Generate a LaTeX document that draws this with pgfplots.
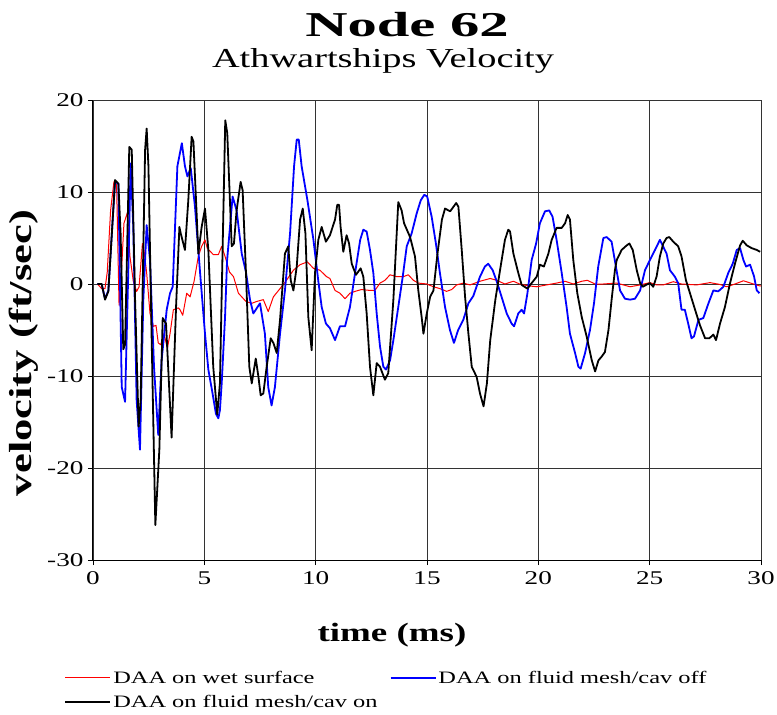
\documentclass[border=0pt]{standalone}
\usepackage{pgfplots}
\pgfplotsset{compat=1.18}
\usepackage{fontspec}
\setmainfont{Liberation Serif}[FakeStretch=1.4]
\usepackage{graphicx}

\begin{document}
\begin{tikzpicture}
\begin{axis}[
  name=ax,
  scale only axis, width=668bp, height=460bp,
  xmin=0, xmax=30, ymin=-30, ymax=20,
  xtick={0,5,...,30}, ytick={-30,-20,...,20},
  axis lines=left,
  axis line style={-, black, line width=1bp},
  grid=major,
  grid style={black!80, line width=0.9bp},
  tick align=outside,
  major tick length=5bp,
  tick style={black, line width=0.8bp},
  xtick pos=bottom, ytick pos=left,
  ticklabel style={font=\fontsize{19.5}{20}\selectfont},
  /pgf/number format/assume math mode=true,
  xticklabel style={yshift=-3bp},
  yticklabel style={xshift=-1bp},
  legend columns=2,
  legend cell align=left,
  legend style={at={(axis description cs:-0.043,-0.236)}, anchor=north west,
    draw=none, fill=none, inner sep=0pt,
    font=\fontsize{17.5}{21}\selectfont,
    row sep=7bp,
    /tikz/every even column/.append style={column sep=10bp}},
  legend image code/.code={\draw[#1] (0bp,0bp) -- (45bp,0bp);},
  line join=round,
]
\addplot[red, line width=1bp] coordinates {
(0.2,0) (0.39,-0.5) (0.54,-0.5) (0.64,1.3) (0.79,8.0) (0.94,11.1) (1.06,10.8) (1.17,-2.3) (1.29,1.9) (1.39,6.6) (1.54,7.7) (1.66,3.0) (1.81,0.3) (1.96,-0.8) (2.07,-0.3) (2.22,4.4) (2.29,3.7) (2.41,1.2) (2.56,-3.2) (2.71,-4.6) (2.83,-4.5) (2.93,-6.4) (3.04,-6.6) (3.19,-5.4) (3.34,-7.0) (3.46,-5.4) (3.61,-2.8) (3.83,-2.6) (3.91,-2.8) (4.03,-3.4) (4.21,-1.0) (4.36,-1.4) (4.54,0.3) (4.73,3.0) (4.88,4.1) (5.03,4.8) (5.13,3.9) (5.40,3.2) (5.63,3.2) (5.78,4.1) (5.93,3.0) (6.13,1.3) (6.31,0.8) (6.53,-1.0) (6.87,-1.9) (7.13,-2.1) (7.35,-1.9) (7.65,-1.7) (7.87,-3.0) (8.10,-1.4) (8.40,-0.5) (8.69,0.4) (9.00,1.5) (9.30,2.1) (9.63,2.4) (9.90,1.7) (10.19,1.5) (10.49,0.8) (10.64,0.6) (10.87,-0.7) (11.09,-1.0) (11.32,-1.6) (11.54,-1.0) (11.77,-0.8) (12.06,-0.6) (12.44,-0.7) (12.66,-0.7) (12.89,0.1) (13.11,0.4) (13.34,1.0) (13.64,0.8) (13.94,0.8) (14.16,1.0) (14.39,0.4) (14.61,0.1) (14.99,0) (15.29,-0.3) (15.58,-0.5) (15.88,-0.8) (16.11,-0.6) (16.33,-0.1) (16.63,0.1) (16.93,-0.1) (17.38,0.3) (17.84,0.6) (18.13,0.4) (18.50,0) (18.88,0.3) (19.16,0) (19.55,-0.2) (19.93,-0.3) (20.37,-0.1) (20.82,0.1) (21.20,0.3) (21.57,0) (21.95,0.3) (22.20,0.4) (22.55,0) (22.92,0) (23.52,0.1) (23.82,-0.1) (24.12,-0.3) (24.57,-0.1) (25.01,0.15) (25.31,-0.1) (25.61,-0.1) (26.06,0.25) (26.43,0) (27.11,-0.1) (27.71,0.15) (28.16,-0.05) (28.46,-0.3) (28.83,0) (29.21,0.35) (29.66,0) (29.93,-0.2) (30,-0.2)
};
\addlegendentry{DAA on wet surface}
\addplot[blue, line width=1.8bp] coordinates {
(0.2,0) (0.39,0) (0.54,-1.6) (0.69,-0.7) (0.99,11.1) (1.14,10.9) (1.29,-11.2) (1.44,-12.8) (1.59,1.9) (1.69,13.1) (1.81,6.2) (1.96,-12.6) (2.11,-18) (2.26,-1.7) (2.41,6.4) (2.56,2.6) (2.74,-9) (2.93,-16.4) (3.08,-8.3) (3.31,-2.8) (3.46,-1.0) (3.58,-0.3) (3.79,12.8) (3.99,15.3) (4.13,12.8) (4.24,11.7) (4.39,12.6) (4.58,8.4) (4.81,1.2) (5.03,-5.4) (5.18,-9.3) (5.37,-11.9) (5.52,-14.1) (5.63,-14.6) (5.70,-13.7) (5.78,-10.8) (5.93,-3.6) (6.02,2.5) (6.27,9.5) (6.45,8.0) (6.68,3.3) (6.87,1.3) (7.05,-1.7) (7.20,-3.2) (7.50,-2.1) (7.72,-5.4) (7.87,-11.2) (8.02,-13.2) (8.17,-11.2) (8.40,-5.4) (8.62,-0.7) (8.85,5.5) (9.03,12.8) (9.15,15.7) (9.24,15.7) (9.37,12.8) (9.63,9.1) (9.90,4.8) (10.12,0.3) (10.27,-2.5) (10.46,-4.3) (10.64,-4.8) (10.87,-6.1) (11.09,-4.6) (11.32,-4.6) (11.54,-2.5) (11.77,1.2) (12.00,4.8) (12.14,5.9) (12.29,5.7) (12.44,3.7) (12.59,1.2) (12.74,-3.2) (12.89,-6.8) (13.04,-9.0) (13.16,-9.3) (13.34,-8.3) (13.49,-6.1) (13.71,-2.5) (13.91,0.8) (14.09,4.1) (14.31,5.5) (14.54,7.7) (14.72,9.1) (14.88,9.7) (15.01,9.5) (15.21,7.3) (15.40,4.4) (15.58,1.2) (15.81,-2.5) (16.03,-5.0) (16.21,-6.4) (16.40,-5.0) (16.63,-3.9) (16.86,-2.1) (17.08,-1.3) (17.38,0.8) (17.60,1.9) (17.75,2.2) (17.95,1.5) (18.13,0.3) (18.35,-1.4) (18.58,-3.2) (18.80,-4.3) (18.91,-4.6) (19.10,-3.2) (19.25,-2.8) (19.36,-3.2) (19.51,-1.0) (19.70,2.6) (19.90,4.4) (20.07,6.6) (20.30,7.9) (20.49,8.0) (20.64,7.3) (20.82,4.8) (21.05,1.2) (21.27,-2.5) (21.42,-5.4) (21.65,-7.5) (21.80,-9.0) (21.90,-9.2) (22.10,-7.5) (22.32,-5.0) (22.50,-2.1) (22.69,1.9) (22.92,5.0) (23.07,5.1) (23.29,4.6) (23.44,2.5) (23.67,-0.7) (23.89,-1.6) (24.12,-1.7) (24.34,-1.6) (24.57,-0.7) (24.79,1.5) (25.01,2.6) (25.24,3.7) (25.46,4.8) (25.58,4.2) (25.76,3.3) (25.91,1.5) (26.13,0.8) (26.28,0.1) (26.43,-2.8) (26.58,-2.8) (26.73,-4.3) (26.88,-5.9) (26.99,-5.7) (27.19,-3.9) (27.41,-3.7) (27.64,-2.1) (27.86,-0.7) (28.08,-0.8) (28.31,-0.3) (28.53,1.2) (28.73,2.2) (28.91,3.7) (29.06,3.9) (29.21,2.6) (29.33,1.9) (29.51,2.1) (29.69,0.8) (29.81,-0.7) (29.93,-1.0)
};
\addlegendentry{DAA on fluid mesh/cav off}
\addplot[black, line width=1.8bp] coordinates {
(0.2,0) (0.39,0) (0.54,-1.7) (0.69,-0.8) (0.99,11.3) (1.14,10.9) (1.24,5.5) (1.36,-7.1) (1.44,-6.6) (1.63,14.9) (1.74,14.6) (1.89,-1.7) (2.05,-15.5) (2.14,-12.6) (2.34,14.6) (2.41,16.9) (2.49,12.8) (2.63,-5.4) (2.80,-26.2) (2.98,-18) (3.13,-3.7) (3.28,-4.3) (3.53,-16.7) (3.73,-2.5) (3.88,6.2) (3.94,5.5) (4.13,3.7) (4.28,9.1) (4.43,16.0) (4.51,15.5) (4.66,7.3) (4.73,3.3) (4.88,6.2) (5.03,8.2) (5.18,3.7) (5.40,-9) (5.58,-14.2) (5.70,-10.8) (5.82,3.7) (5.94,17.8) (6.03,16.4) (6.23,4.1) (6.33,4.4) (6.45,8.0) (6.63,11.1) (6.72,10.2) (6.87,1.2) (7.02,-9) (7.13,-10.8) (7.31,-8.1) (7.43,-10.1) (7.53,-12.1) (7.65,-11.9) (7.80,-9) (7.98,-5.9) (8.10,-6.4) (8.25,-7.5) (8.40,-3.9) (8.62,3.3) (8.77,4.1) (8.88,0.4) (9.00,-0.7) (9.15,1.9) (9.30,7.0) (9.42,8.2) (9.54,5.5) (9.67,-3.6) (9.82,-7.2) (9.97,1.2) (10.12,4.8) (10.27,6.2) (10.46,4.6) (10.64,5.3) (10.87,7.0) (10.97,8.6) (11.05,8.6) (11.12,6.2) (11.24,3.5) (11.39,5.3) (11.50,4.4) (11.62,2.2) (11.81,1.0) (12.02,1.7) (12.14,0.8) (12.29,-3.2) (12.44,-9.0) (12.59,-12.1) (12.74,-8.6) (12.89,-9.0) (13.11,-10.4) (13.26,-9.7) (13.49,-1.7) (13.71,8.9) (13.86,8.0) (13.97,6.6) (14.24,5.1) (14.46,3.0) (14.61,-0.7) (14.76,-3.6) (14.84,-5.4) (14.99,-3.2) (15.14,-1.4) (15.29,-0.7) (15.47,3.3) (15.67,7.0) (15.81,8.2) (16.04,7.9) (16.19,8.4) (16.31,8.8) (16.41,8.4) (16.56,3.7) (16.71,-1.4) (16.86,-5.4) (17.01,-9.0) (17.23,-10.1) (17.38,-11.9) (17.54,-13.3) (17.69,-10.8) (17.84,-6.1) (18.07,-1.7) (18.28,1.5) (18.50,4.8) (18.65,5.9) (18.73,5.7) (18.88,3.3) (19.10,1.2) (19.25,-0.1) (19.51,-0.5) (19.70,0.1) (19.93,0.8) (20.07,2.1) (20.25,1.9) (20.45,3.3) (20.60,4.8) (20.82,6.1) (21.05,6.1) (21.20,6.6) (21.32,7.5) (21.42,7.0) (21.57,2.6) (21.75,-1.0) (21.95,-3.6) (22.17,-5.7) (22.40,-8.3) (22.55,-9.5) (22.70,-8.3) (22.84,-7.9) (22.99,-7.4) (23.15,-5.0) (23.30,-1.5) (23.44,1.5) (23.52,2.6) (23.74,3.7) (23.97,4.2) (24.09,4.4) (24.24,3.7) (24.42,1.5) (24.57,0.1) (24.69,-0.3) (24.84,-0.1) (25.01,0.1) (25.16,-0.3) (25.31,0.8) (25.46,3.0) (25.61,4.4) (25.76,5.0) (25.88,5.1) (26.06,4.6) (26.28,4.1) (26.43,3.0) (26.63,0.4) (26.81,-1.0) (27.04,-2.8) (27.26,-4.5) (27.49,-5.9) (27.68,-5.9) (27.86,-5.5) (27.98,-6.1) (28.16,-4.3) (28.38,-2.5) (28.61,0.1) (28.83,2.2) (29.06,4.2) (29.18,4.7) (29.36,4.2) (29.58,3.9) (29.81,3.7) (29.96,3.5)
};
\addlegendentry{DAA on fluid mesh/cav on}
\end{axis}
\node[anchor=base, inner sep=0pt] at ([xshift=314bp,yshift=63bp]ax.north west)
  {\scalebox{1.2}[1]{\fontsize{35}{37}\selectfont\bfseries Node 62}};
\node[anchor=base, inner sep=0pt, font=\fontsize{27.5}{30}\selectfont] at ([xshift=290bp,yshift=32bp]ax.north west)
  {Athwartships Velocity};
\node[anchor=base, inner sep=0pt, font=\fontsize{26.5}{30}\selectfont\bfseries] at ([xshift=299bp,yshift=-81bp]ax.south west)
  {time (ms)};
\node[anchor=base, inner sep=0pt, rotate=90, font=\fontsize{32}{34}\selectfont\bfseries] at ([xshift=-61bp,yshift=207bp]ax.south west)
  {velocity (ft/sec)};
\pgfresetboundingbox
\useasboundingbox ([xshift=-93bp,yshift=-155bp]ax.south west) rectangle ([xshift=16bp,yshift=100bp]ax.north east);
\end{tikzpicture}
\end{document}
